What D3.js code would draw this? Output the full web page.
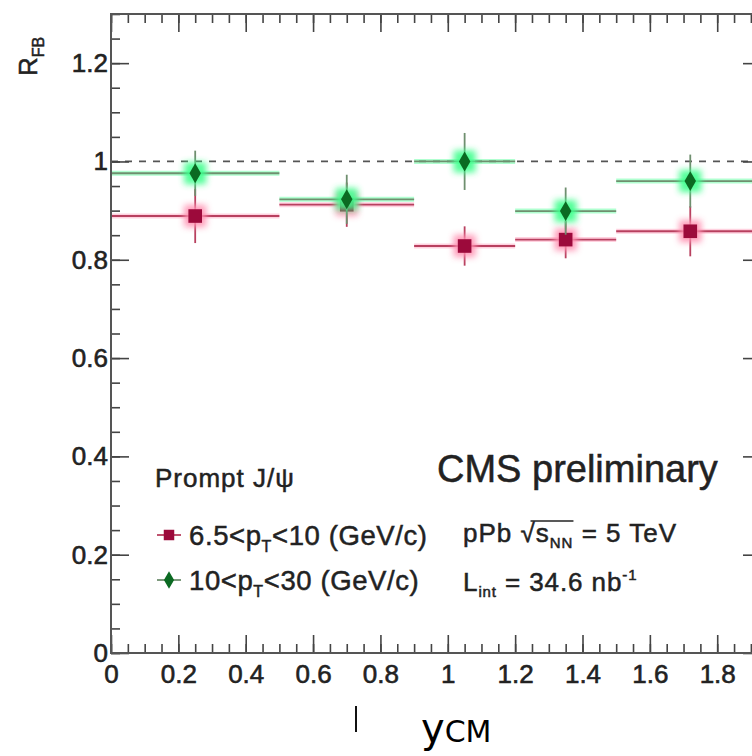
<!DOCTYPE html>
<html><head><meta charset="utf-8">
<script src="https://cdn.jsdelivr.net/npm/d3@7"></script>
<style>body{margin:0;background:#fff}svg{display:block}</style>
</head><body>
<svg id="c" width="752" height="756"></svg>
<script>
// ---- data ----
const binLow    = [0, 0.5, 0.9, 1.2, 1.5];
const binHigh   = [0.5, 0.9, 1.2, 1.5, 1.93];
const binCenter = [0.25, 0.70, 1.05, 1.35, 1.72];
const rfbLowPt  = [0.889, 0.912, 0.828, 0.841, 0.858];
const errLowPt  = [0.055, 0.045, 0.040, 0.038, 0.051];
const rfbHighPt = [0.976, 0.923, 1.000, 0.899, 0.960];
const errHighPt = [0.046, 0.050, 0.058, 0.048, 0.054];
const xTicks = [0, 0.2, 0.4, 0.6, 0.8, 1, 1.2, 1.4, 1.6, 1.8];
const yTicks = [0, 0.2, 0.4, 0.6, 0.8, 1, 1.2];

const svg = d3.select("#c");
const FONT = "'Liberation Sans', Arial, Helvetica, sans-serif";
const INK = "#222";
const L = 111, R = 761, T = 14, B = 653;
const x = d3.scaleLinear([0, 1.93], [L, R]);
const y = d3.scaleLinear([0, 1.3], [B, T]);

const defs = svg.append("defs");
defs.append("filter").attr("id","glow").attr("x","-50%").attr("y","-50%").attr("width","200%").attr("height","200%")
  .append("feGaussianBlur").attr("stdDeviation", 3);
defs.append("clipPath").attr("id","clip").append("rect").attr("x",L).attr("y",T).attr("width",R-L).attr("height",B-T);

// dashed unity line
svg.append("line").attr("x1", L).attr("x2", R).attr("y1", y(1)).attr("y2", y(1))
  .attr("stroke", "#555").attr("stroke-width", 1.8).attr("stroke-dasharray", "7,7");

const series = [
  {v: rfbLowPt, e: errLowPt, dark: "#9c0a3b", line: "#b8405f", halo: "#ff8fb0", shape: "square"},
  {v: rfbHighPt, e: errHighPt, dark: "#0b6a22", line: "#6f8f6f", halo: "#3dff8c", shape: "diamond"}
];

const plot = svg.append("g").attr("clip-path", "url(#clip)");
series.forEach(s => {
  const g = plot.append("g");
  const idx = d3.range(binCenter.length);
  g.selectAll(".hh").data(idx).join("line")
    .attr("x1", i => x(binLow[i])).attr("x2", i => x(binHigh[i]))
    .attr("y1", i => y(s.v[i])).attr("y2", i => y(s.v[i]))
    .attr("stroke", s.halo).attr("stroke-width", 5).attr("opacity", 0.4);
  g.selectAll(".h").data(idx).join("line")
    .attr("x1", i => x(binLow[i])).attr("x2", i => x(binHigh[i]))
    .attr("y1", i => y(s.v[i])).attr("y2", i => y(s.v[i]))
    .attr("stroke", s.line).attr("stroke-width", 1.8);
  g.selectAll(".v").data(idx).join("line")
    .attr("x1", i => x(binCenter[i])).attr("x2", i => x(binCenter[i]))
    .attr("y1", i => y(s.v[i] - s.e[i])).attr("y2", i => y(s.v[i] + s.e[i]))
    .attr("stroke", s.line).attr("stroke-width", 1.8);
  g.selectAll(".gl").data(idx).join("rect")
    .attr("x", i => x(binCenter[i]) - 11).attr("y", i => y(s.v[i]) - 11)
    .attr("width", 22).attr("height", 22)
    .attr("fill", s.halo).attr("filter", "url(#glow)").attr("opacity", 0.9);
  const sym = s.shape === "square" ? d3.symbol(d3.symbolSquare, 185) : d3.symbol(d3.symbolDiamond, 115);
  g.selectAll(".m").data(idx).join("path")
    .attr("transform", i => `translate(${x(binCenter[i])},${y(s.v[i])})`)
    .attr("d", sym).attr("fill", s.dark);
});

// ---- frame and axes ----
const axisStyle = (g) => {
  g.select(".domain").remove();
  g.selectAll(".tick line").attr("stroke", "#444").attr("stroke-width", 1.6);
  g.selectAll("text").attr("font-family", FONT).attr("font-size", 26).attr("fill", INK)
    .attr("stroke", INK).attr("stroke-width", 0.6);
};
const minorX = d3.range(0, 1.93, 0.05).map(v => +v.toFixed(2));
const minorY = d3.range(0, 1.3001, 0.05).map(v => +v.toFixed(2));

svg.append("g").attr("transform", `translate(0,${B})`)
  .call(d3.axisBottom(x).tickValues(minorX).tickSize(-9).tickFormat("")).call(axisStyle);
svg.append("g").attr("transform", `translate(0,${B})`)
  .call(d3.axisBottom(x).tickValues(xTicks).tickSize(-18).tickPadding(12).tickFormat(d => String(d))).call(axisStyle);
svg.append("g").attr("transform", `translate(0,${T})`)
  .call(d3.axisTop(x).tickValues(minorX).tickSize(-9).tickFormat("")).call(axisStyle);
svg.append("g").attr("transform", `translate(0,${T})`)
  .call(d3.axisTop(x).tickValues(xTicks).tickSize(-18).tickFormat("")).call(axisStyle);

svg.append("g").attr("transform", `translate(${L},0)`)
  .call(d3.axisLeft(y).tickValues(minorY).tickSize(-9).tickFormat("")).call(axisStyle);
svg.append("g").attr("transform", `translate(${L},0)`)
  .call(d3.axisLeft(y).tickValues(yTicks).tickSize(-18).tickPadding(3).tickFormat(d => String(d))).call(axisStyle);
svg.append("g").attr("transform", `translate(${R},0)`)
  .call(d3.axisRight(y).tickValues(minorY).tickSize(-9).tickFormat("")).call(axisStyle);
svg.append("g").attr("transform", `translate(${R},0)`)
  .call(d3.axisRight(y).tickValues(yTicks).tickSize(-18).tickFormat("")).call(axisStyle);

svg.append("rect").attr("x", L).attr("y", T).attr("width", R - L).attr("height", B - T)
  .attr("fill", "none").attr("stroke", "#555").attr("stroke-width", 2);

const txt = (xx, yy, size) => svg.append("text").attr("x", xx).attr("y", yy)
  .attr("font-family", FONT).attr("font-size", size).attr("fill", INK)
  .attr("stroke", INK).attr("stroke-width", 0.5);

// y-axis title R_FB
const yt = txt(0, 0, 26).attr("transform", "translate(37,76) rotate(-90)");
yt.append("tspan").text("R");
yt.append("tspan").attr("font-size", 16).attr("dy", 7).text("FB");

// x-axis title
svg.append("line").attr("x1", 356).attr("x2", 356).attr("y1", 706).attr("y2", 732)
  .attr("stroke", "#111").attr("stroke-width", 2);
const xt = svg.append("text").attr("x", 421).attr("y", 742)
  .attr("font-family", "'DejaVu Sans', sans-serif").attr("fill", "#000");
xt.append("tspan").attr("font-size", 40).text("y");
xt.append("tspan").attr("font-size", 30).text("CM");

// ---- legend ----
txt(155, 487, 26).attr("letter-spacing", 1).text("Prompt J/ψ");

const legendRows = [
  {s: series[0], y: 535, parts: ["6.5<p", "T", "<10 (GeV/c)"]},
  {s: series[1], y: 580, parts: ["10<p", "T", "<30 (GeV/c)"]}
];
legendRows.forEach(r => {
  svg.append("line").attr("x1", 157).attr("x2", 181).attr("y1", r.y).attr("y2", r.y)
    .attr("stroke", r.s.line).attr("stroke-width", 1.8);
  const sym = r.s.shape === "square" ? d3.symbol(d3.symbolSquare, 110) : d3.symbol(d3.symbolDiamond, 90);
  svg.append("path").attr("transform", `translate(169,${r.y})`).attr("d", sym).attr("fill", r.s.dark);
  const t = txt(189, r.y + 10, 27.5).attr("letter-spacing", 0.6);
  t.append("tspan").text(r.parts[0]);
  t.append("tspan").attr("font-size", 16).attr("dy", 7).text(r.parts[1]);
  t.append("tspan").attr("dy", -7).text(r.parts[2]);
});

txt(437, 482, 38).text("CMS preliminary");
const e1 = txt(463, 542, 26).attr("letter-spacing", 1);
e1.append("tspan").text("pPb ");
e1.append("tspan").text("√s");
e1.append("tspan").attr("font-size", 15).attr("dy", 6).text("NN");
e1.append("tspan").attr("dy", -6).text(" = 5 TeV");
// radical overbar
const n = e1.node();
const xe = n.getEndPositionOfChar(7).x;
svg.append("line").attr("x1", n.getStartPositionOfChar(4).x + 10).attr("x2", xe)
  .attr("y1", 521).attr("y2", 521).attr("stroke", INK).attr("stroke-width", 1.6);
const e2 = txt(463, 591, 26).attr("letter-spacing", 0.9);
e2.append("tspan").text("L");
e2.append("tspan").attr("font-size", 15).attr("dy", 6).text("int");
e2.append("tspan").attr("dy", -6).text(" = 34.6 nb");
e2.append("tspan").attr("font-size", 15).attr("dy", -11).text("-1");
</script>
</body></html>
